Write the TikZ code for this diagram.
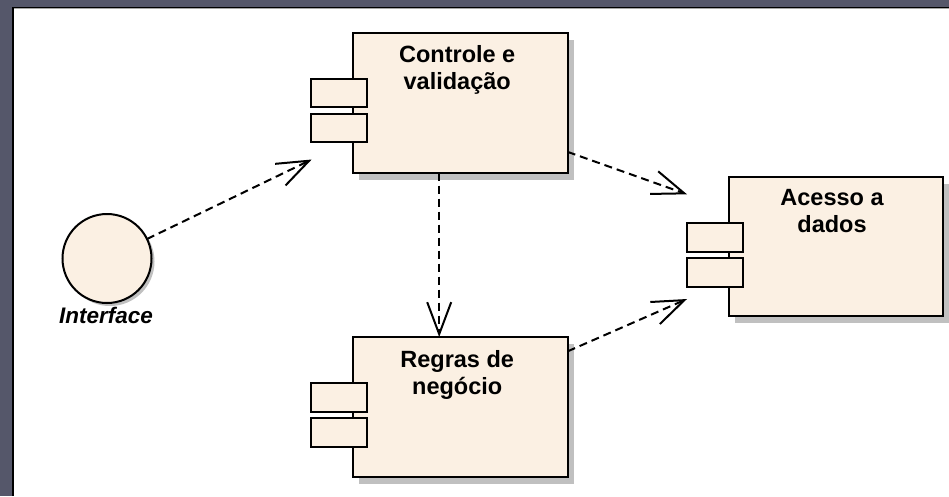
\documentclass[tikz,border=0pt]{standalone}
\usepackage{fontspec}
\setmainfont{Liberation Sans}
\usetikzlibrary{arrows.meta,shadows,calc}
\definecolor{framegray}{HTML}{55576A}
\definecolor{compfill}{HTML}{FBF0E3}
\definecolor{shade}{HTML}{C0C0C0}
\begin{document}
\begin{tikzpicture}[x=1pt,y=-1pt,
  comp/.style={draw=black, line width=2pt, fill=compfill, minimum width=215pt,
    minimum height=140pt, inner sep=0pt, outer sep=0pt,
    general shadow={fill=shade, shadow xshift=6pt, shadow yshift=-7pt}},
  port/.style={draw=black, line width=2pt, fill=compfill, minimum width=56pt,
    minimum height=28.5pt, inner sep=0pt, outer sep=0pt},
  ctext/.style={anchor=north, align=center, inner sep=0pt,
    font=\fontsize{23.5}{27}\selectfont\bfseries},
  dep/.style={line width=2pt, dash pattern=on 8pt off 5pt,
    -{Straight Barb[length=32pt,width=24pt,line width=2pt]}}
]
% window frame
\fill[framegray] (0,0) rectangle (949,496);
\fill[black] (12,7.3) rectangle (949,496);
\fill[gray!70] (14,8.3) rectangle (949,9.3);
\fill[white] (14,9.3) rectangle (949,496);
\useasboundingbox (0,0) rectangle (949,496);

% components
\node[comp] (ctrl) at (460.2,102.5) {};
\node[comp] (rules) at (460.2,407) {};
\node[comp, minimum width=214pt, minimum height=139pt] (data) at (836,246.5) {};

\foreach \c in {ctrl,rules,data}{
  \node[port] (\c p1) at ($(\c.north west)+(-14,60.5)$) {};
  \node[port] (\c p2) at ($(\c.north west)+(-14,95.5)$) {};
}

\node[ctext] (ctrlt) at ($(ctrl.north)+(-3,13)$) {Controle e\\validação};
\node[ctext] (rulest) at ($(rules.north)+(-3,13.5)$) {Regras de\\negócio};
\node[ctext] (datat) at ($(data.north)+(-4,12)$) {Acesso a\\dados};

% interface
\node[circle, draw=black, line width=2pt, fill=compfill, minimum size=89pt,
  inner sep=0pt, outer sep=0pt,
  general shadow={fill=shade, shadow xshift=3pt, shadow yshift=-3pt}]
  (iface) at (107,258.5) {};
\node[anchor=base, inner sep=0pt, font=\fontsize{22.5}{26}\selectfont\bfseries\itshape]
  (ifacet) at (106,323.3) {Interface};

% dependencies
\coordinate (ctrlin) at ($(ctrl.south west)+(-41,-13)$);
\coordinate (ctrlout) at ($(ctrl.south east)+(0,-20.6)$);
\coordinate (datain1) at ($(data.north west)+(-42,17.3)$);
\coordinate (datain2) at ($(data.south west)+(-42,-17)$);
\coordinate (rulesout) at ($(rules.north east)+(0,14.3)$);
\coordinate (ctrldown) at ($(ctrl.south)+(-21,0)$);
\coordinate (rulesin) at ($(rules.north)+(-21,0)$);

\draw[dep] (iface.26) -- (ctrlin);
\draw[dep] (ctrlout) -- (datain1);
\draw[dep] (rulesout) -- (datain2);
\draw[dep] (ctrldown) -- (rulesin);
\end{tikzpicture}
\end{document}
